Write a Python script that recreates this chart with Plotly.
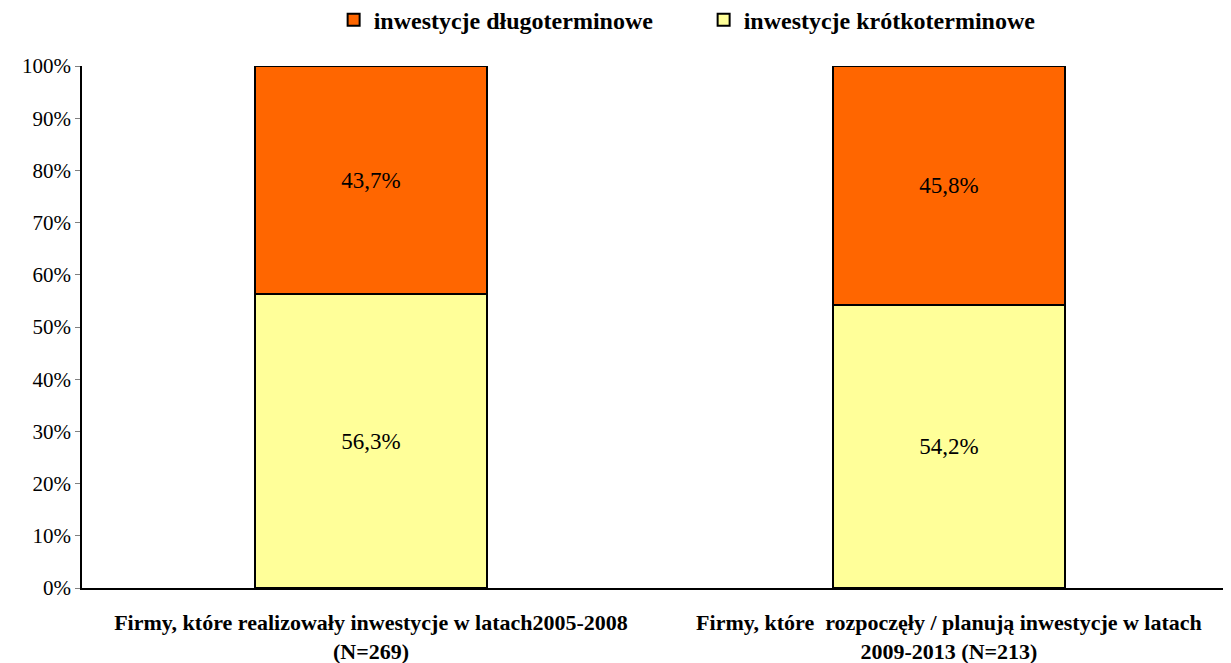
import plotly.graph_objects as go

categories = [
    "Firmy, które realizowały inwestycje w latach2005-2008<br>(N=269)",
    "Firmy, które  rozpoczęły / planują inwestycje w latach<br>2009-2013 (N=213)",
]
short_term = [56.3, 54.2]
long_term = [43.7, 45.8]
y_ticks = [0, 10, 20, 30, 40, 50, 60, 70, 80, 90, 100]

SERIF = "Liberation Serif"


def pl_label(v):
    return f"{v:.1f}%".replace(".", ",")


fig = go.Figure()
fig.add_trace(go.Bar(
    x=[0, 1], y=short_term,
    name="inwestycje krótkoterminowe",
    marker=dict(color="#FFFF99", line=dict(color="black", width=2)),
    text=[pl_label(v) for v in short_term],
    textposition="inside", insidetextanchor="middle",
    insidetextfont=dict(family=SERIF, size=23, color="black"),
    width=0.4,
))
fig.add_trace(go.Bar(
    x=[0, 1], y=long_term,
    name="inwestycje długoterminowe",
    marker=dict(color="#FF6600", line=dict(color="black", width=2)),
    text=[pl_label(v) for v in long_term],
    textposition="inside", insidetextanchor="middle",
    insidetextfont=dict(family=SERIF, size=23, color="black"),
    width=0.4,
))

# page body adds 8px offset, so figure is slightly smaller than the window
fig.update_layout(
    width=1223, height=655,
    barmode="stack",
    plot_bgcolor="white", paper_bgcolor="white",
    margin=dict(l=74, r=0, t=58, b=75, autoexpand=False),
    font=dict(family=SERIF, color="black"),
    showlegend=True,
    legend=dict(
        orientation="h", x=0.219, xanchor="left", y=1.088, yanchor="middle",
        traceorder="reversed",
        font=dict(family=SERIF, size=24, color="black", weight="bold"),
        itemwidth=30, entrywidth=325,
    ),
    xaxis=dict(
        range=[-0.5, 1.488],
        tickvals=[0, 1], ticktext=categories,
        tickfont=dict(family=SERIF, size=22, color="black", weight="bold"),
        ticklabelstandoff=14,
        showline=True, linecolor="black", linewidth=1.5,
        ticks="", showgrid=False, zeroline=False,
    ),
    yaxis=dict(
        range=[0, 100],
        tickvals=y_ticks, ticktext=[f"{t}%" for t in y_ticks],
        tickfont=dict(family=SERIF, size=21, color="black"),
        showline=True, linecolor="black", linewidth=1.5,
        ticks="outside", ticklen=5, tickcolor="gray",
        showgrid=False, zeroline=False,
    ),
)

fig.write_html("out.html")
